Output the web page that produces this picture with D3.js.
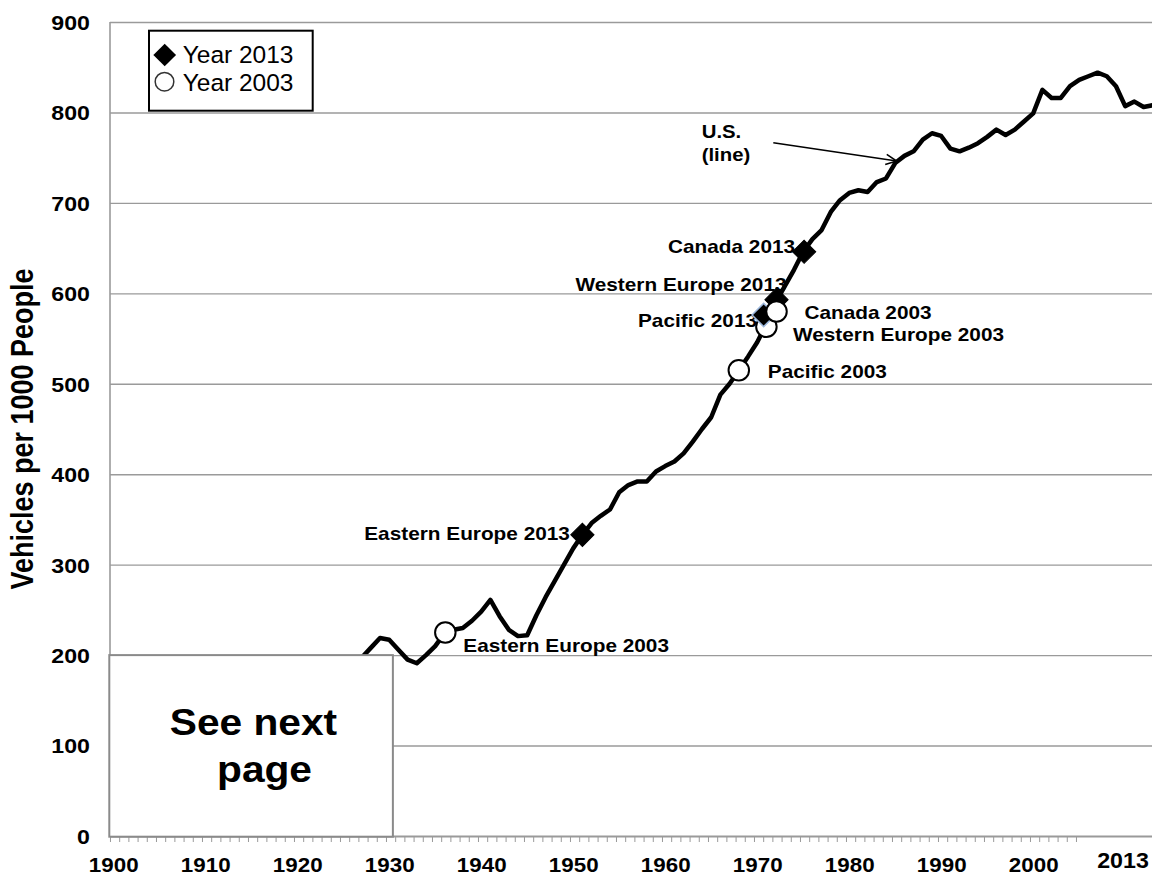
<!DOCTYPE html>
<html><head><meta charset="utf-8">
<script src="https://cdn.jsdelivr.net/npm/d3@7"></script>
<style>
body{margin:0;background:#fff;}
svg{display:block;}
text{font-family:"Liberation Sans",Arial,Helvetica,sans-serif;fill:#000;}
</style>
</head><body>
<svg id="chart" width="1152" height="874"></svg>
<script>
// ---------------- DATA ----------------
const years = d3.range(1926, 2014);
const usVehicles = [
  185,197,208,219,217,206,195,191,200,210,   // 1926-1935
  224,228,230,238,248,261,243,228,221,222,   // 1936-1945
  244,264,282,300,318,333,346,354,361,380,   // 1946-1955
  388,392,392,403,409,414,423,436,450,463,   // 1956-1965
  488,500,515,530,546,566,590,608,626,646,   // 1966-1975
  660,670,690,703,711,714,712,723,727,744,   // 1976-1985
  752,757,770,777,774,760,757,761,766,773,   // 1986-1995
  781,775,781,790,799,825,816,816,829,836,   // 1996-2005
  840,844,840,829,807,812,806,808            // 2006-2013
];
const markerNames  = ["Eastern Europe 2003","Eastern Europe 2013","Pacific 2003","Western Europe 2003","Pacific 2013","Western Europe 2013","Canada 2003","Canada 2013"];
const markerKinds  = ["2003","2013","2003","2003","2013","2013","2003","2013"];
const markerYears  = [1936.1, 1951.0, 1968.0, 1971.0, 1970.7, 1972.1, 1972.1, 1975.1];
const markerValues = [225, 333, 515, 563, 576, 593, 580, 646];
const yTickValues  = [0,100,200,300,400,500,600,700,800,900];
const xTickLabels  = [1900,1910,1920,1930,1940,1950,1960,1970,1980,1990,2000];
const minorTickYears = d3.range(1900, 2006);
const lastYearLabel = "2013";
const legendLabels = ["Year 2013","Year 2003"];
const yAxisTitle = "Vehicles per 1000 People";
const usLabel = ["U.S.","(line)"];
const boxText = ["See next","page"];

// ---------------- LAYOUT / STYLE ----------------
const SX = 1.13; // horizontal stretch of text
const plotLeft = 110, plotRight = 1152;
const x = d3.scaleLinear().domain([1900, 2013]).range([113.2, 1152.8]);
const y = d3.scaleLinear().domain([0, 900]).range([836, 22]);
const gridColor = "#9a9a9a";
const svg = d3.select("#chart");

function stext(parent, tx, ty, str, size, weight, anchor, sx) {
  const g = parent.append("g").attr("transform", `translate(${tx},${ty}) scale(${sx||SX},1)`);
  g.append("text").attr("text-anchor", anchor || "start")
    .style("font-size", size + "px").style("font-weight", weight || "bold").text(str);
  return g;
}

// gridlines
svg.append("g").attr("transform", `translate(${plotLeft},0)`)
  .call(d3.axisLeft(y).tickValues(yTickValues.filter(v => v > 0)).tickSize(-(plotRight - plotLeft)).tickFormat(""))
  .call(g => g.select(".domain").remove())
  .call(g => g.selectAll("line").attr("stroke", gridColor).attr("stroke-width", 1.4));

// left axis line
svg.append("line").attr("x1", plotLeft).attr("x2", plotLeft).attr("y1", y(900)).attr("y2", y(0))
  .attr("stroke", gridColor).attr("stroke-width", 1.6);

// y tick labels
svg.append("g").attr("transform", "translate(90,0)")
  .call(d3.axisLeft(y).tickValues(yTickValues).tickSize(0).tickPadding(0))
  .call(g => g.select(".domain").remove())
  .call(g => g.selectAll("text").attr("x", 0).attr("dy", "0.36em")
    .attr("transform", `scale(${SX},1)`)
    .style("font-size", "20.5px").style("font-weight", "bold")
    .style("font-family", '"Liberation Sans",Arial,sans-serif'));

// x axis minor ticks
svg.append("g").attr("transform", `translate(0,${y(0)})`)
  .call(d3.axisBottom(x).tickValues(minorTickYears.map(v => v - 0.35)).tickSize(6).tickFormat(""))
  .call(g => g.select(".domain").remove())
  .call(g => g.selectAll("line").attr("stroke", gridColor).attr("stroke-width", 1));
// x axis line
svg.append("line").attr("x1", plotLeft).attr("x2", plotRight).attr("y1", y(0) + 0.5).attr("y2", y(0) + 0.5)
  .attr("stroke", gridColor).attr("stroke-width", 1.8);

// x tick labels
svg.append("g").attr("transform", `translate(0,${y(0)})`)
  .call(d3.axisBottom(x).tickValues(xTickLabels).tickSize(0).tickFormat(d3.format("d")))
  .call(g => g.select(".domain").remove())
  .call(g => g.selectAll(".tick text").attr("y", 0).attr("dy", 0)
    .attr("transform", `translate(0,35.5) scale(${SX},1)`)
    .style("font-size", "19.8px").style("font-weight", "bold")
    .style("font-family", '"Liberation Sans",Arial,sans-serif'));
stext(svg, 1123, 868, lastYearLabel, 21.5, "bold", "middle", 1.08);

// y axis title
svg.append("text")
  .attr("transform", `translate(33,429) scale(${SX},1) rotate(-90)`)
  .attr("text-anchor", "middle")
  .style("font-size", "27px").style("font-weight", "bold").text(yAxisTitle);

// US line
const series = years.map((yr, i) => ({ year: yr, v: usVehicles[i] }));
svg.append("path").datum(series)
  .attr("fill", "none").attr("stroke", "#000").attr("stroke-width", 4.5)
  .attr("stroke-linejoin", "round").attr("stroke-linecap", "round")
  .attr("d", d3.line().x(d => x(d.year)).y(d => y(d.v)));

// "See next page" box
svg.append("rect").attr("x", plotLeft - 0.7).attr("y", y(200))
  .attr("width", x(1930.4) - plotLeft + 0.7).attr("height", y(0) - y(200) + 0.7)
  .attr("fill", "#fff").attr("stroke", "#8a8a8a").attr("stroke-width", 2);
stext(svg, 253.5, 735, boxText[0], 37, "bold", "middle", 1.1);
stext(svg, 264.5, 782, boxText[1], 37, "bold", "middle", 1.1);

// marker labels (offsets relative to marker)
const labelOffsets = {
  "Eastern Europe 2003": [18, 19, "start"],
  "Eastern Europe 2013": [-12.5, 5, "end"],
  "Pacific 2003": [29, 7.6, "start"],
  "Western Europe 2003": [26.6, 14, "start"],
  "Pacific 2013": [-6.6, 11.7, "end"],
  "Western Europe 2013": [10, -8.3, "end"],
  "Canada 2003": [28, 7.6, "start"],
  "Canada 2013": [-9, 1.6, "end"]
};
markerNames.forEach((n, i) => {
  const o = labelOffsets[n];
  stext(svg, x(markerYears[i]) + o[0], y(markerValues[i]) + o[1], n, 18.4, "bold", o[2]);
});

// markers
const diamond = d3.symbol().type(d3.symbolSquare).size(270);
const circle = d3.symbol().type(d3.symbolCircle).size(330);
markerNames.forEach((n, i) => {
  const px = x(markerYears[i]), py = y(markerValues[i]);
  if (markerKinds[i] === "2013") {
    svg.append("path").attr("d", diamond())
      .attr("transform", `translate(${px},${py}) rotate(45)`)
      .attr("fill", "#000")
      .attr("stroke", n === "Pacific 2013" ? "#9db8dd" : "#000")
      .attr("stroke-width", n === "Pacific 2013" ? 1.5 : 1);
  } else {
    svg.append("path").attr("d", circle())
      .attr("transform", `translate(${px},${py})`)
      .attr("fill", "#fff").attr("stroke", "#000").attr("stroke-width", 2);
  }
});

// U.S. annotation with arrow
stext(svg, 701.7, 138.3, usLabel[0], 18, "bold", "start");
stext(svg, 701.7, 161.3, usLabel[1], 18, "bold", "start");
const tail = [x(1971.75), y(766.6)], tip = [x(1985.16), y(746.3)];
svg.append("line").attr("x1", tail[0]).attr("y1", tail[1]).attr("x2", tip[0]).attr("y2", tip[1])
  .attr("stroke", "#000").attr("stroke-width", 1.5);
{
  const ang = Math.atan2(tip[1] - tail[1], tip[0] - tail[0]);
  const L = 12, W = 0.45;
  const p1 = [tip[0] - L * Math.cos(ang - W), tip[1] - L * Math.sin(ang - W)];
  const p2 = [tip[0] - L * Math.cos(ang + W), tip[1] - L * Math.sin(ang + W)];
  svg.append("path").attr("d", `M${p1}L${tip}L${p2}`)
    .attr("fill", "none").attr("stroke", "#000").attr("stroke-width", 1.5);
}

// legend
const lg = svg.append("g");
lg.append("rect").attr("x", 149).attr("y", 30.7).attr("width", 163.7).attr("height", 80)
  .attr("fill", "#fff").attr("stroke", "#000").attr("stroke-width", 2);
lg.append("path").attr("d", d3.symbol().type(d3.symbolSquare).size(258)())
  .attr("transform", "translate(164.7,55) rotate(45)").attr("fill", "#000");
lg.append("path").attr("d", d3.symbol().type(d3.symbolCircle).size(272)())
  .attr("transform", "translate(164.5,81.7)").attr("fill", "#fff").attr("stroke", "#333").attr("stroke-width", 1.5);
lg.append("text").attr("x", 182.7).attr("y", 63.3).style("font-size", "24.5px").text(legendLabels[0]);
lg.append("text").attr("x", 182.7).attr("y", 90.7).style("font-size", "24.5px").text(legendLabels[1]);
</script>
</body></html>
